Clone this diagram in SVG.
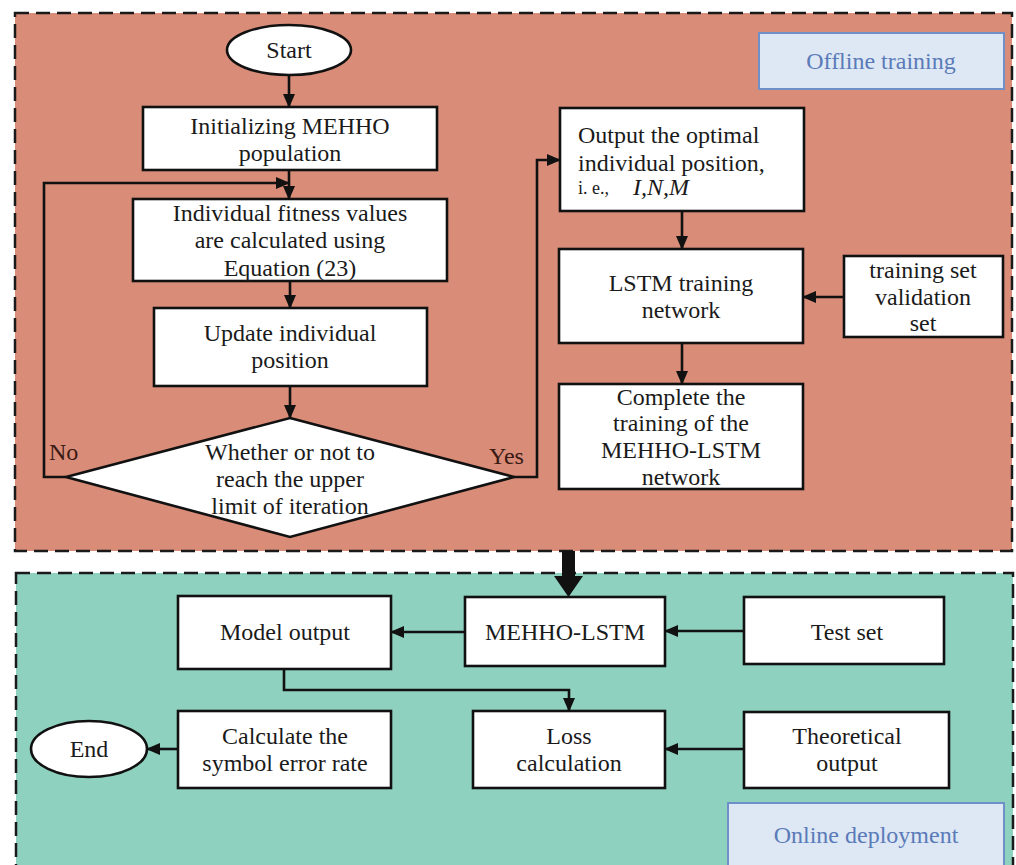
<svg xmlns="http://www.w3.org/2000/svg" width="1016" height="865" viewBox="0 0 1016 865">
<style>
.panel{stroke:#1a1a1a;stroke-width:2.5;stroke-dasharray:14 7}
.box{fill:#fff;stroke:#111;stroke-width:2.6}
.t{font-family:"Liberation Serif","Times New Roman",serif;font-size:24px;fill:#1a1a1a;text-anchor:middle}
.tl{font-family:"Liberation Serif","Times New Roman",serif;font-size:24px;fill:#1a1a1a}
.lab{fill:#dde8f4;stroke:#6f8fc8;stroke-width:2}
.labt{font-family:"Liberation Serif","Times New Roman",serif;font-size:24px;fill:#5a7ab8;text-anchor:middle}
.c{fill:none;stroke:#111;stroke-width:2.6}
</style>
<defs>
<marker id="ah" markerUnits="userSpaceOnUse" markerWidth="14" markerHeight="12" refX="13" refY="6" orient="auto">
<path d="M0,0 L14,6 L0,12 Z" fill="#111"/>
</marker>
</defs>
<rect width="1016" height="865" fill="#fff"/>
<g id="panel-offline">
<rect class="panel" x="15" y="13" width="997" height="538" fill="#d98c78"/>
</g>
<g id="panel-online">
<rect class="panel" x="16" y="573" width="997" height="300" fill="#8fd1bf"/>
</g>
<g id="label-offline">
<rect class="lab" x="759" y="33" width="245" height="56"/>
<text class="labt" x="881" y="69">Offline training</text>
</g>
<g id="label-online">
<rect class="lab" x="728" y="803" width="276" height="70"/>
<text class="labt" x="866" y="843">Online deployment</text>
</g>
<g id="start">
<ellipse cx="289" cy="50" rx="62" ry="25" class="box"/>
<text class="t" x="289" y="58">Start</text>
</g>
<g id="init">
<rect class="box" x="143" y="107" width="294" height="63"/>
<text class="t" x="290" y="134">Initializing MEHHO</text>
<text class="t" x="290" y="161">population</text>
</g>
<g id="fitness">
<rect class="box" x="133" y="199" width="314" height="82"/>
<text class="t" x="290" y="221">Individual fitness values</text>
<text class="t" x="290" y="248">are calculated using</text>
<text class="t" x="290" y="276">Equation (23)</text>
</g>
<g id="update">
<rect class="box" x="154" y="308" width="273" height="78"/>
<text class="t" x="290" y="341">Update individual</text>
<text class="t" x="290" y="368">position</text>
</g>
<g id="decision">
<polygon class="box" points="290,418 514,477 290,537 66,477"/>
<text class="t" x="290" y="460">Whether or not to</text>
<text class="t" x="290" y="487">reach the upper</text>
<text class="t" x="290" y="514">limit of iteration</text>
</g>
<g id="output">
<rect class="box" x="560" y="108" width="244" height="103"/>
<text class="tl" x="578" y="143">Output the optimal</text>
<text class="tl" x="578" y="171">individual position,</text>
<text class="tl" x="578" y="194" style="font-size:18px">i. e.,</text>
<text class="tl" x="633" y="195" style="font-style:italic">I,N,M</text>
</g>
<g id="lstm">
<rect class="box" x="559" y="249" width="244" height="94"/>
<text class="t" x="681" y="291">LSTM training</text>
<text class="t" x="681" y="318">network</text>
</g>
<g id="trainset">
<rect class="box" x="844" y="256" width="159" height="81"/>
<text class="t" x="923" y="278">training set</text>
<text class="t" x="923" y="305">validation</text>
<text class="t" x="923" y="331">set</text>
</g>
<g id="complete">
<rect class="box" x="559" y="384" width="244" height="105"/>
<text class="t" x="681" y="405">Complete the</text>
<text class="t" x="681" y="431">training of the</text>
<text class="t" x="681" y="458">MEHHO-LSTM</text>
<text class="t" x="681" y="485">network</text>
</g>
<g id="mehho">
<rect class="box" x="465" y="597" width="200" height="69"/>
<text class="t" x="565" y="640">MEHHO-LSTM</text>
</g>
<g id="testset">
<rect class="box" x="744" y="597" width="200" height="67"/>
<text class="t" x="847" y="640">Test set</text>
</g>
<g id="model">
<rect class="box" x="178" y="596" width="213" height="73"/>
<text class="t" x="285" y="640">Model output</text>
</g>
<g id="loss">
<rect class="box" x="473" y="711" width="192" height="77"/>
<text class="t" x="569" y="744">Loss</text>
<text class="t" x="569" y="771">calculation</text>
</g>
<g id="theoretical">
<rect class="box" x="744" y="712" width="205" height="76"/>
<text class="t" x="847" y="744">Theoretical</text>
<text class="t" x="847" y="771">output</text>
</g>
<g id="calc">
<rect class="box" x="178" y="711" width="213" height="77"/>
<text class="t" x="285" y="744">Calculate the</text>
<text class="t" x="285" y="771">symbol error rate</text>
</g>
<g id="end">
<ellipse cx="89" cy="749" rx="58" ry="28" class="box"/>
<text class="t" x="89" y="757">End</text>
</g>
<g id="connectors">
<line class="c" x1="289" y1="75" x2="289" y2="107" marker-end="url(#ah)"/>
<line class="c" x1="289" y1="170" x2="289" y2="199" marker-end="url(#ah)"/>
<polyline class="c" points="66,477 44,477 44,183 289,183" marker-end="url(#ah)"/>
<line class="c" x1="290" y1="281" x2="290" y2="308" marker-end="url(#ah)"/>
<line class="c" x1="290" y1="386" x2="290" y2="418" marker-end="url(#ah)"/>
<polyline class="c" points="514,477 537,477 537,160 560,160" marker-end="url(#ah)"/>
<line class="c" x1="682" y1="211" x2="682" y2="249" marker-end="url(#ah)"/>
<line class="c" x1="844" y1="297" x2="803" y2="297" marker-end="url(#ah)"/>
<line class="c" x1="682" y1="343" x2="682" y2="384" marker-end="url(#ah)"/>
<path d="M562,551 L575,551 L575,576 L583,576 L568.5,597 L554,576 L562,576 Z" fill="#111"/>
<line class="c" x1="744" y1="631" x2="665" y2="631" marker-end="url(#ah)"/>
<line class="c" x1="465" y1="632" x2="391" y2="632" marker-end="url(#ah)"/>
<polyline class="c" points="284,669 284,690 569,690 569,711" marker-end="url(#ah)"/>
<line class="c" x1="744" y1="749" x2="665" y2="749" marker-end="url(#ah)"/>
<line class="c" x1="178" y1="749" x2="147" y2="749" marker-end="url(#ah)"/>
<text class="tl" x="49" y="460" style="fill:#3a1a14">No</text>
<text class="tl" x="489" y="464" style="fill:#3a1a14">Yes</text>
</g>
</svg>
